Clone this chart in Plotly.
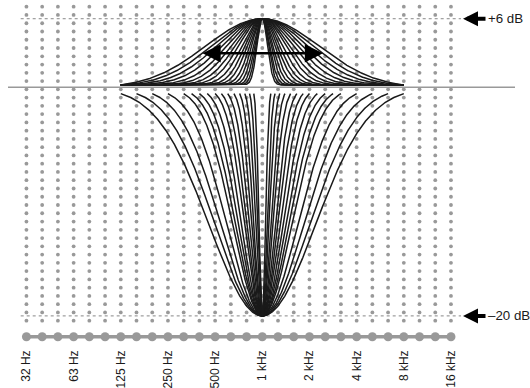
import numpy as np
import plotly.graph_objects as go

# ---------------- data ----------------
tick_octaves = [-5, -4, -3, -2, -1, 0, 1, 2, 3, 4]          # octaves from 1 kHz
tick_labels = ["32 Hz", "63 Hz", "125 Hz", "250 Hz", "500 Hz",
               "1 kHz", "2 kHz", "4 kHz", "8 kHz", "16 kHz"]
boost_gain_db = 6.0
cut_gain_db = -20.0
boost_edge_db = 0.2        # boost curves pinned here at +/- 3 octaves
boost_span_oct = 3.0
# boost curve widths (gaussian sigma, octaves)
boost_sigmas = [1.2, 1.06, 0.94, 0.83, 0.73, 0.64, 0.56, 0.49, 0.42, 0.36,
                0.31, 0.26, 0.22, 0.185, 0.155, 0.13, 0.11]
# cut curves: half-width (octaves) where each curve starts (at -0.55 dB)
cut_start_oct = [3.0, 2.667, 2.333, 2.0, 1.667, 1.5, 1.333, 1.167, 1.0,
                 0.867, 0.733, 0.6, 0.48, 0.37, 0.27, 0.18]
cut_threshold_db = -0.55
ref_levels_db = [6, -20]
ref_labels = ["+6 dB", "\u201320 dB"]

# ---------------- figure ----------------
W, H = 530, 388
px_per_oct = 47.17
px_per_db = 11.43
x0_px = 262.3           # 1 kHz
y0_px = 87.3            # 0 dB
plot_h = 345
xmin = -x0_px / px_per_oct
xmax = (W - x0_px) / px_per_oct
ymax = y0_px / px_per_db
ymin = ymax - plot_h / px_per_db

def px2x(p):
    return (p - x0_px) / px_per_oct

def px2y(p):
    return (y0_px - p) / px_per_db

fig = go.Figure()

DOT = "#999999"

# dotted grid
cols = np.arange(28) / 3.0 - 5.0
rows = [px2y(6.7 + 8.263 * k) for k in range(39)]
gx, gy = np.meshgrid(cols, rows)
fig.add_trace(go.Scatter(x=gx.ravel(), y=gy.ravel(), mode="markers",
                         marker=dict(size=3.8, color=DOT), hoverinfo="skip"))

# reference dotted lines
for lv in ref_levels_db:
    fig.add_trace(go.Scatter(x=[px2x(20.7), px2x(461)], y=[lv, lv], mode="lines",
                             line=dict(color="#888888", width=1, dash="dot"), hoverinfo="skip"))

# 0 dB line
fig.add_trace(go.Scatter(x=[px2x(8), px2x(515)], y=[0, 0], mode="lines",
                         line=dict(color="#999999", width=1.6), hoverinfo="skip"))

# bottom big dots row
by = px2y(336.7)
fig.add_trace(go.Scatter(x=cols, y=[by] * len(cols), mode="lines+markers",
                         line=dict(color=DOT, width=3.5),
                         marker=dict(size=9, color=DOT), hoverinfo="skip"))

CURVE = "#1a1a1a"
# boost curves
d = np.linspace(-boost_span_oct, boost_span_oct, 901)
for s in boost_sigmas:
    e3 = np.exp(-boost_span_oct ** 2 / (2 * s * s))
    g = boost_edge_db + (boost_gain_db - boost_edge_db) * (np.exp(-d ** 2 / (2 * s * s)) - e3) / (1 - e3)
    fig.add_trace(go.Scatter(x=d, y=g, mode="lines", line=dict(color=CURVE, width=1.5),
                             hoverinfo="skip"))

# cut curves
k = np.sqrt(2 * np.log(cut_gain_db / cut_threshold_db))
for ds in cut_start_oct:
    s = ds / k
    dd = np.linspace(-ds, ds, 601)
    g = cut_gain_db * np.exp(-dd ** 2 / (2 * s * s))
    fig.add_trace(go.Scatter(x=dd, y=g, mode="lines", line=dict(color=CURVE, width=1.5),
                             hoverinfo="skip"))

annotations = []
# side arrows and labels
for lv, lab in zip(ref_levels_db, ref_labels):
    annotations.append(dict(x=px2x(463), y=lv, ax=24, ay=0, text="", showarrow=True,
                            arrowhead=2, arrowsize=0.75, arrowwidth=4, arrowcolor="#000000",
                            standoff=0))
    annotations.append(dict(x=px2x(485.5), y=lv, text=lab, showarrow=False, xanchor="left",
                            yanchor="middle", font=dict(size=13.3, color="#1a1a1a",
                                                          family="Liberation Sans")))
# double-headed bandwidth arrow
annotations.append(dict(x=px2x(323), y=px2y(53.3), ax=px2x(201), ay=px2y(53.3),
                        axref="x", ayref="y", text="", showarrow=True,
                        arrowhead=2, arrowside="end+start", arrowsize=1.4, arrowwidth=2.6,
                        arrowcolor="#000000", standoff=0, startstandoff=0))

fig.update_layout(
    width=W, height=H, margin=dict(l=0, r=0, t=0, b=H - plot_h),
    paper_bgcolor="white", plot_bgcolor="white", showlegend=False,
    annotations=annotations,
    xaxis=dict(range=[xmin, xmax], showgrid=False, zeroline=False, showline=False,
               tickvals=tick_octaves, ticktext=tick_labels, tickangle=-90, ticks="",
               ticklabelstandoff=2,
               tickfont=dict(size=12, color="#1a1a1a", family="Liberation Sans"),
               automargin=False, fixedrange=True),
    yaxis=dict(range=[ymin, ymax], showgrid=False, zeroline=False, showline=False,
               showticklabels=False, automargin=False, fixedrange=True),
)
fig.write_html("out.html", config={"displayModeBar": False},
               post_script="document.body.style.margin='0';document.body.style.overflow='hidden';")
